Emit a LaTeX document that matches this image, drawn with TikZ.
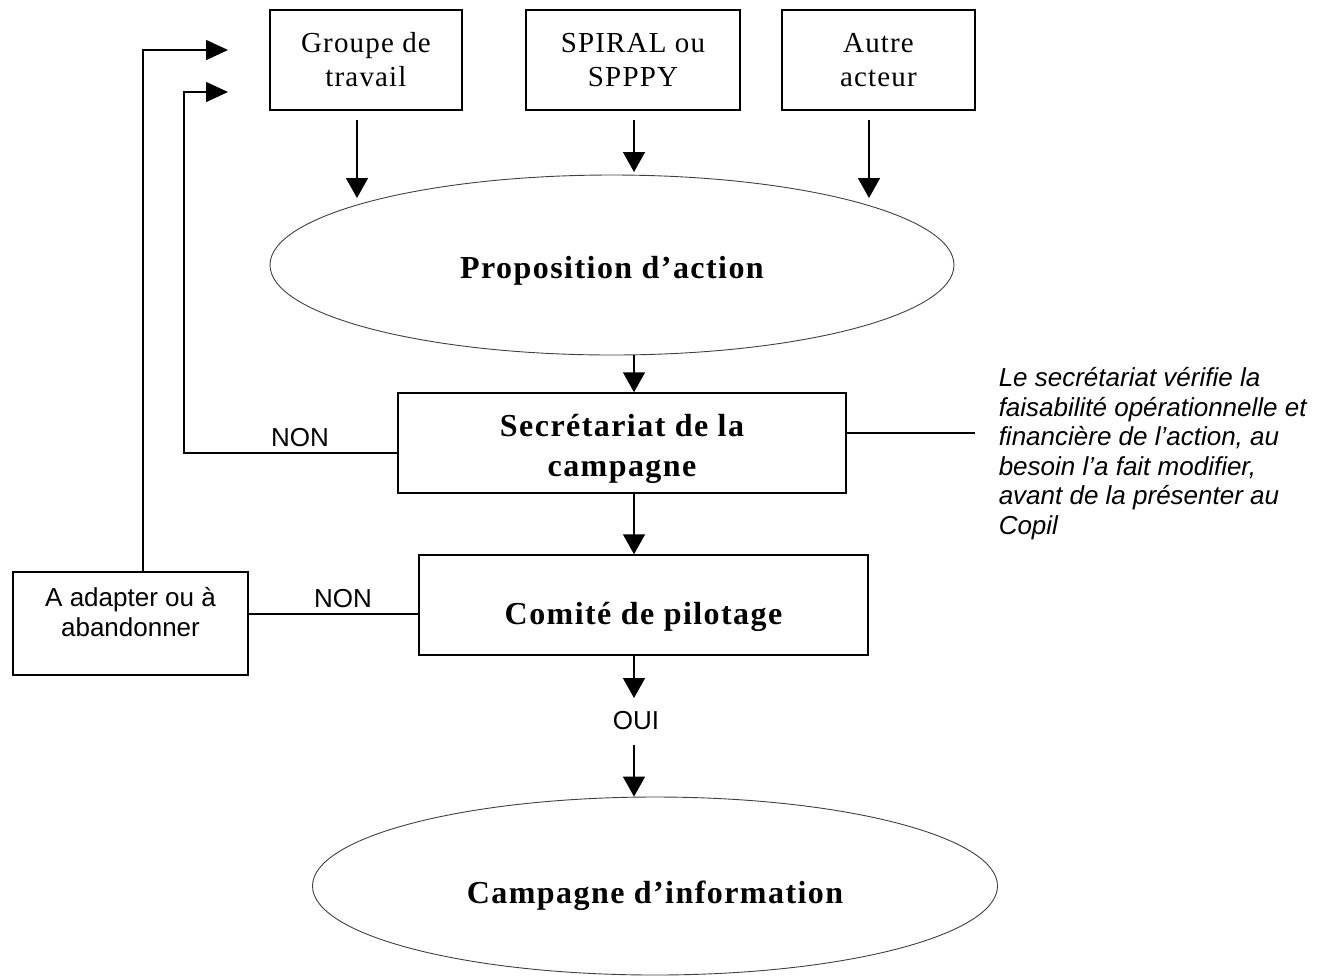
\documentclass[tikz,border=0pt]{standalone}
\usepackage{fontspec}
\setmainfont{Liberation Serif}
\setsansfont{Liberation Sans}
\newfontfamily\boldsp[LetterSpace=4.5]{Liberation Serif}
\newfontfamily\srcsp[LetterSpace=4]{Liberation Serif}
\usetikzlibrary{shapes.geometric,arrows.meta}
\newcommand{\shiftv}[2]{\raisebox{#1}[\height][\depth]{\begin{tabular}{@{}c@{}}#2\end{tabular}}}
\begin{document}
\begin{tikzpicture}[x=0.5pt,y=-0.5pt,
  line width=0.75pt,
  box/.style={draw,rectangle,align=center,inner sep=0pt,minimum height=50pt},
  srcbox/.style={box,font=\srcsp\fontsize{14.5}{17}\selectfont},
  mainbox/.style={box,font=\boldsp\bfseries\fontsize{16}{20}\selectfont},
  oval/.style={draw,ellipse,inner sep=0pt,line width=0.45pt,draw=black!75,
    font=\boldsp\bfseries\fontsize{16}{20}\selectfont},
  sbox/.style={box,font=\sffamily\fontsize{13}{14.75}\selectfont},
  lbl/.style={font=\sffamily\fontsize{13}{14.75}\selectfont,inner sep=0pt},
  arr/.style={-{Triangle[length=10pt,width=11pt]}},
  arrh/.style={-{Triangle[length=11pt,width=10pt]}}]
\useasboundingbox (0,0) rectangle (1322,976);

\node[srcbox,minimum width=96pt] (g) at (366,60) {Groupe de\\travail};
\node[srcbox,minimum width=107pt] (s) at (633,60) {SPIRAL ou\\SPPPY};
\node[srcbox,minimum width=96.5pt] (a) at (878.5,60) {Autre\\acteur};

\node[oval,minimum width=342pt,minimum height=90pt] (p) at (612,265) {\shiftv{-2.5pt}{Proposition d’action}};
\node[mainbox,minimum width=224pt] (sec) at (622,443) {\shiftv{-2.75pt}{Secrétariat de la\\campagne}};
\node[mainbox,minimum width=224.5pt] (c) at (643.5,605) {\shiftv{-5.5pt}{Comité de pilotage}};
\node[sbox,minimum width=117.5pt,minimum height=51.5pt] (ad) at (130.5,623.5) {\shiftv{4pt}{A adapter ou à\\abandonner}};
\node[oval,minimum width=342.5pt,minimum height=89pt] (ci) at (655,886) {\shiftv{-4.5pt}{Campagne d’information}};

\node[lbl,anchor=north west,align=left,font=\sffamily\itshape\fontsize{13}{14.75}\selectfont] (note) at (998,367)
 {Le secrétariat vérifie la\\faisabilité opérationnelle et\\financière de l’action, au\\besoin l\char39a fait modifier,\\avant de la présenter au\\Copil};

% top arrows
\coordinate (g1) at (357,120); \coordinate (g2) at (357,198);
\coordinate (s1) at (634,120); \coordinate (s2) at (634,172);
\coordinate (a1) at (869,120); \coordinate (a2) at (869,198);
\draw[arr] (g1) -- (g2);
\draw[arr] (s1) -- (s2);
\draw[arr] (a1) -- (a2);

% main flow
\draw[arr] (p.south -| 634,0) -- (sec.north -| 634,0);
\draw[arr] (sec.south -| 634,0) -- (c.north -| 634,0);
\coordinate (o1) at (634,698);
\coordinate (o2) at (634,745);
\draw[arr] (c.south -| 634,0) -- (o1);
\node[lbl] (oui) at (636,721) {OUI};
\draw[arr] (o2) -- (ci.north -| 634,0);

% note line
\coordinate (n1) at (975,433);
\draw (sec.east |- n1) -- (n1);

% feedback loops
\coordinate (t1) at (228,92);
\coordinate (t2) at (228,50);
\draw[arrh] (sec.west |- 0,453) -- (184,453) -- (184,92) -- (t1);
\node[lbl] (non1) at (300,438) {NON};
\draw (c.west |- 0,614) -- (ad.east |- 0,614);
\node[lbl] (non2) at (343,599) {NON};
\draw[arrh] (ad.north -| 143,0) -- (143,50) -- (t2);
\end{tikzpicture}
\end{document}
